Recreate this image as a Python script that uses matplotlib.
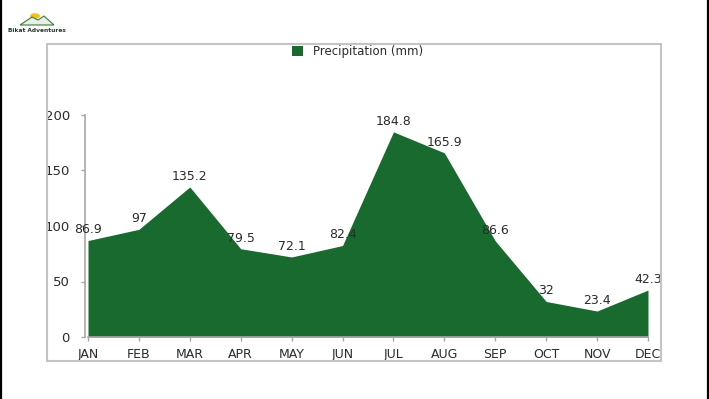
import matplotlib
matplotlib.use("Agg")
import matplotlib.pyplot as plt
from matplotlib.patches import Rectangle, Circle, Polygon
from matplotlib.lines import Line2D

months = ["JAN", "FEB", "MAR", "APR", "MAY", "JUN", "JUL", "AUG", "SEP", "OCT", "NOV", "DEC"]
precip = [86.9, 97, 135.2, 79.5, 72.1, 82.4, 184.8, 165.9, 86.6, 32, 23.4, 42.3]
value_labels = ["86.9", "97", "135.2", "79.5", "72.1", "82.4", "184.8", "165.9", "86.6", "32", "23.4", "42.3"]
y_ticks = [0, 50, 100, 150, 200]
series_name = "Precipitation (mm)"

W, H = 709, 399
fig = plt.figure(figsize=(W / 100, H / 100), dpi=100)
fig.patch.set_facecolor("white")

green = "#196a2e"
txt = "#2b2b2b"
axc = "#a8a8a8"

def fx(px):
    return px / W

def fy(py):
    return 1 - py / H

ax = fig.add_axes([fx(88), fy(337), fx(648) - fx(88), fy(115) - fy(337)])
x = list(range(len(months)))
ax.fill_between(x, precip, 0, color=green, linewidth=0, zorder=2)
ax.set_xlim(0, len(months) - 1)
ax.set_ylim(0, 200)
ax.set_xticks(x)
ax.set_xticklabels(months)
ax.set_yticks(y_ticks)
ax.set_yticklabels([str(t) for t in y_ticks])
for s in ["top", "right"]:
    ax.spines[s].set_visible(False)
for s in ["left", "bottom"]:
    ax.spines[s].set_color(axc)
    ax.spines[s].set_linewidth(1.2)
    ax.spines[s].set_clip_on(False)
ax.spines["left"].set_position(("outward", 2))
ax.tick_params(axis="y", length=3, width=1, color=axc, pad=8, labelsize=9.5, labelcolor=txt)
ax.tick_params(axis="x", length=3, width=1, color=axc, pad=5, labelsize=9, labelcolor=txt)
ax.patch.set_alpha(0)

for xi, v, lab in zip(x, precip, value_labels):
    ax.annotate(lab, (xi, v), xytext=(0, 3), textcoords="offset points",
                ha="center", va="bottom", fontsize=9, color=txt, zorder=5,
                annotation_clip=False)

# legend
fig.patches.append(Rectangle((fx(292), fy(56)), fx(303) - fx(292), fy(46) - fy(56),
                             transform=fig.transFigure, facecolor=green, edgecolor="none"))
fig.text(fx(313), fy(51), series_name, fontsize=8.5, color=txt, va="center", ha="left")

# chart frame
fig.patches.append(Rectangle((fx(47), fy(361)), fx(661) - fx(47), fy(44) - fy(361),
                             transform=fig.transFigure, facecolor="none",
                             edgecolor="#c4c4c4", linewidth=1.5))

# black side borders
fig.lines.append(Line2D([fx(1), fx(1)], [0, 1], transform=fig.transFigure, color="black", linewidth=1.6))
fig.lines.append(Line2D([fx(707.5), fx(707.5)], [0, 1], transform=fig.transFigure, color="black", linewidth=1.6))

# logo
fig.patches.append(Circle((fx(35), fy(16)), 5 / W, transform=fig.transFigure,
                          facecolor="#f2c41a", edgecolor="none"))
fig.patches.append(Polygon([(fx(20), fy(25)), (fx(32), fy(17)), (fx(38), fy(20)),
                            (fx(44), fy(16)), (fx(54), fy(25))],
                           closed=True, transform=fig.transFigure,
                           facecolor="#e8eee8", edgecolor="#3d7a3a", linewidth=0.8))
fig.text(fx(8), fy(30), "Bikat Adventures", fontsize=4.2, fontweight="bold",
         color="#1f3a2a", va="center", ha="left")

fig.savefig("out.png", dpi=100, facecolor="white")
